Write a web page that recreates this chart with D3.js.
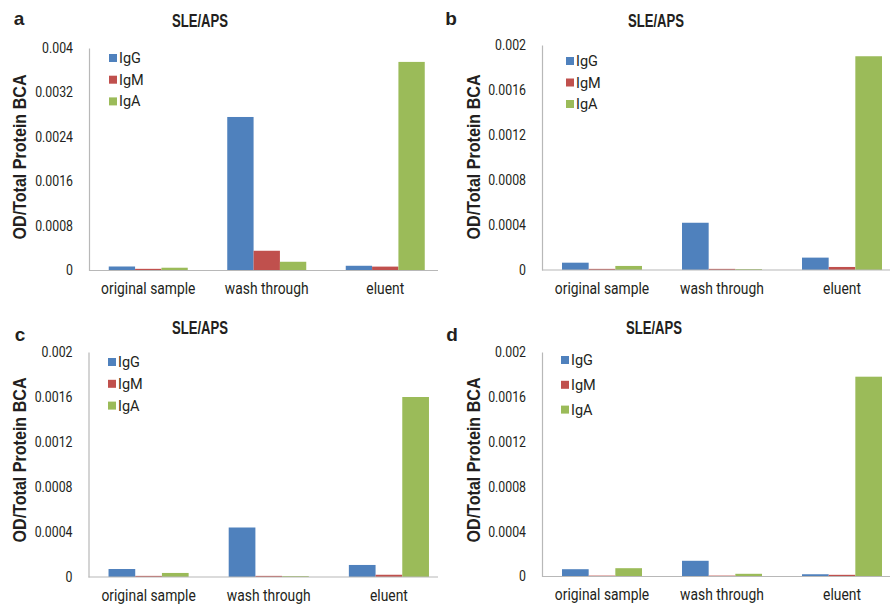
<!DOCTYPE html>
<html>
<head>
<meta charset="utf-8">
<script src="https://cdn.jsdelivr.net/npm/d3@7"></script>
<style>
  body { margin: 0; background: #fff; }
  svg { display: block; }
  text { font-family: Roboto, "Liberation Sans", sans-serif; }
</style>
</head>
<body>
<div id="chart"></div>
<script>
// categories and series shared by all four panels
const categories = ["original sample", "wash through", "eluent"];
const series = ["IgG", "IgM", "IgA"];
const colors = ["#4f81bd", "#c0504d", "#9bbb59"];

// panel a
const aIgG = [0.000072, 0.00276, 0.000085];
const aIgM = [0.00003, 0.000355, 0.00007];
const aIgA = [0.00005, 0.000157, 0.00375];
const aTicks = [0, 0.0008, 0.0016, 0.0024, 0.0032, 0.004];
const aTickLabels = ["0", "0.0008", "0.0016", "0.0024", "0.0032", "0.004"];

// panel b
const bIgG = [0.000065, 0.00042, 0.00011];
const bIgM = [0.00001, 0.00001, 0.000027];
const bIgA = [0.000036, 0.000008, 0.0019];

// panel c
const cIgG = [0.000071, 0.00044, 0.000107];
const cIgM = [0.00001, 0.00001, 0.00002];
const cIgA = [0.000036, 0.000008, 0.0016];

// panel d
const dIgG = [0.000065, 0.00014, 0.00002];
const dIgM = [0.000008, 0.000008, 0.000015];
const dIgA = [0.000074, 0.000024, 0.00178];

// shared ticks for b, c, d
const smallTicks = [0, 0.0004, 0.0008, 0.0012, 0.0016, 0.002];
const smallTickLabels = ["0", "0.0004", "0.0008", "0.0012", "0.0016", "0.002"];

const W = 890, H = 606;
const tickScale = 0.88, catScale = 0.84;

const svg = d3.select("#chart").append("svg")
    .attr("width", W)
    .attr("height", H);

// layout per panel (pixel positions, not data)
const panels = [
    { letter: "a", values: [aIgG, aIgM, aIgA], max: 0.004, ticks: aTicks, labels: aTickLabels,
      left: 89, right: 444.5, axisEnd: 438, top: 48, bottom: 270.5,
      letterX: 19, letterY: 25, titleX: 200, titleY: 27, ylabX: 26, ylabY: 157,
      legX: 109, legY: 58, legStep: 21.7 },
    { letter: "b", values: [bIgG, bIgM, bIgA], max: 0.002, ticks: smallTicks, labels: smallTickLabels,
      left: 542, right: 902, axisEnd: 890, top: 45, bottom: 270,
      letterX: 451, letterY: 25, titleX: 656, titleY: 27, ylabX: 480, ylabY: 157,
      legX: 566, legY: 61, legStep: 21.5 },
    { letter: "c", values: [cIgG, cIgM, cIgA], max: 0.002, ticks: smallTicks, labels: smallTickLabels,
      left: 88.5, right: 449, axisEnd: 438, top: 352, bottom: 577,
      letterX: 20, letterY: 341, titleX: 200, titleY: 334, ylabX: 26, ylabY: 460,
      legX: 108, legY: 362, legStep: 21.8 },
    { letter: "d", values: [dIgG, dIgM, dIgA], max: 0.002, ticks: smallTicks, labels: smallTickLabels,
      left: 542, right: 902, axisEnd: 890, top: 352, bottom: 576.5,
      letterX: 452, letterY: 341, titleX: 654, titleY: 334, ylabX: 480, ylabY: 460,
      legX: 561, legY: 360, legStep: 24.8 }
];

panels.forEach(p => {
    const g = svg.append("g");

    const x0 = d3.scaleBand()
        .domain(categories)
        .range([p.left, p.right])
        .paddingInner(1 / 3)
        .paddingOuter(1 / 6);

    const x1 = d3.scaleBand()
        .domain(series)
        .range([0, x0.bandwidth()]);

    const y = d3.scaleLinear()
        .domain([0, p.max])
        .range([p.bottom, p.top]);

    // bars
    series.forEach((s, si) => {
        g.selectAll(null)
            .data(categories.map((c, ci) => ({ c, v: p.values[si][ci] })))
            .enter().append("rect")
            .attr("x", d => x0(d.c) + x1(s))
            .attr("width", x1.bandwidth())
            .attr("y", d => y(d.v))
            .attr("height", d => y(0) - y(d.v))
            .attr("fill", colors[si]);
    });

    // y axis (labels narrowed to mimic a condensed face)
    const yAxis = d3.axisLeft(y)
        .tickValues(p.ticks)
        .tickSize(0)
        .tickPadding(16 / tickScale)
        .tickFormat((d, i) => p.labels[i]);

    const yg = g.append("g")
        .attr("transform", `translate(${p.left},0)`)
        .call(yAxis);
    yg.select(".domain").attr("stroke", "#b8b8b8").attr("stroke-width", 1.2);
    yg.selectAll("text")
        .style("font-size", "14px")
        .attr("fill", "#231f20")
        .attr("transform", `scale(${tickScale},1)`);

    // x axis
    const xAxis = d3.axisBottom(x0)
        .tickSize(0)
        .tickPadding(12);
    const xg = g.append("g")
        .attr("transform", `translate(0,${p.bottom})`)
        .call(xAxis);
    xg.select(".domain")
        .attr("d", `M${p.left},0H${p.axisEnd}`)
        .attr("stroke", "#b8b8b8")
        .attr("stroke-width", 1.2);
    xg.selectAll("text")
        .style("font-size", "16.5px")
        .attr("fill", "#231f20")
        .attr("transform", `scale(${catScale},1)`);

    // panel letter
    g.append("text")
        .attr("x", p.letterX)
        .attr("y", p.letterY)
        .attr("text-anchor", "middle")
        .style("font-family", "'Liberation Sans', Arial, sans-serif")
        .style("font-weight", "bold")
        .style("font-size", "19px")
        .attr("fill", "#231f20")
        .text(p.letter);

    // title
    g.append("text")
        .attr("transform", `translate(${p.titleX},${p.titleY}) scale(0.75,1)`)
        .attr("text-anchor", "middle")
        .style("font-family", "'Liberation Sans', Arial, sans-serif")
        .style("font-weight", "bold")
        .style("font-size", "17.5px")
        .attr("fill", "#231f20")
        .text("SLE/APS");

    // y label
    g.append("text")
        .attr("transform", `translate(${p.ylabX},${p.ylabY}) rotate(-90) scale(0.92,1)`)
        .attr("text-anchor", "middle")
        .style("font-family", "'Liberation Sans', Arial, sans-serif")
        .style("font-weight", "bold")
        .style("font-size", "17.5px")
        .attr("fill", "#231f20")
        .text("OD/Total Protein BCA");

    // legend
    const leg = g.selectAll(".legend-item")
        .data(series)
        .enter().append("g")
        .attr("class", "legend-item")
        .attr("transform", (d, i) => `translate(${p.legX},${p.legY + i * p.legStep})`);

    leg.append("rect")
        .attr("x", 0)
        .attr("y", -4)
        .attr("width", 8)
        .attr("height", 8)
        .attr("fill", (d, i) => colors[i]);

    leg.append("text")
        .attr("x", 10)
        .attr("y", 0)
        .attr("dy", "0.35em")
        .style("font-size", "14.5px")
        .attr("fill", "#231f20")
        .text(d => d);
});
</script>
</body>
</html>
